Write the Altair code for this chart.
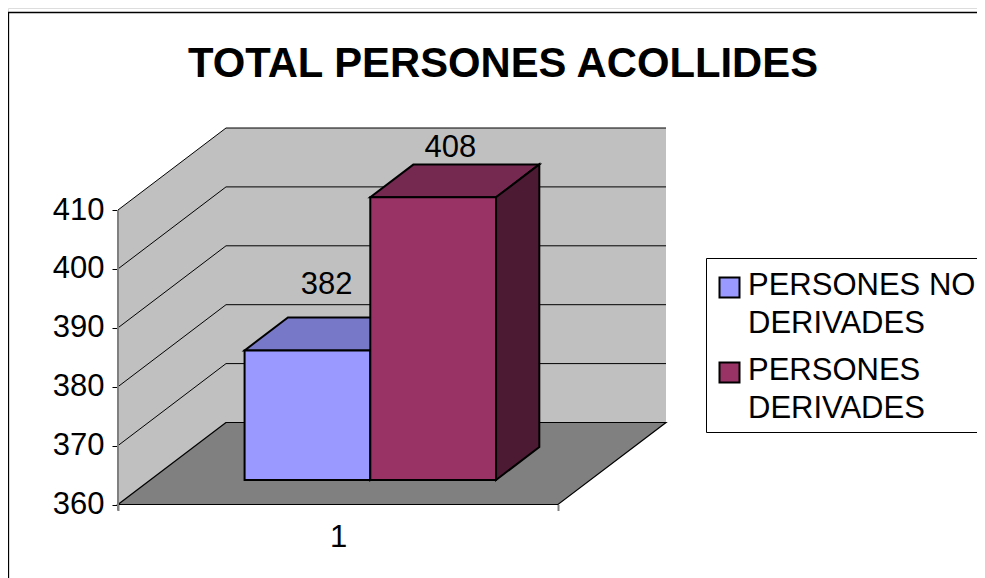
import altair as alt
import pandas as pd

TITLE = "TOTAL PERSONES ACOLLIDES"
SERIES = ["PERSONES NO\nDERIVADES", "PERSONES\nDERIVADES"]
VALUES = [382, 408]
LABEL_SHIFT = [(-2.5, -48.5), (-4.5, -32.5)]
FRONT = ["#9999FF", "#993366"]
TOP = ["#7878C8", "#752850"]
SIDE = ["#4F4F86", "#4D1A33"]
TICKS = [360, 370, 380, 390, 400, 410]
CATEGORY = ["1"]
FONT = "Liberation Sans"
FS = 31
LABEL_LIFT = 17

# reference-frame geometry of the 3-D box
W, H, M = 969, 570, 8
X0, Y0, CAT_W, DX, DY = 118.0, 504.5, 440.0, 108.0, 82.0
UNIT = 5.89
BASE = 360
D0, D1 = 0.299, 0.70
GAP = 1.5


def proj(c, d, v):
    return X0 + c * CAT_W + d * DX, Y0 - d * DY - (v - BASE) * UNIT


XS = alt.Scale(domain=[M, M + W], range=[0, W], nice=False, zero=False)
YS = alt.Scale(domain=[M + H, M], range=[H, 0], nice=False, zero=False)
VS = alt.Scale(
    domain=[BASE + (Y0 - (M + H)) / UNIT, BASE + (Y0 - M) / UNIT],
    range=[H, 0], nice=False, zero=False)


def X(f="x"):
    return alt.X(f"{f}:Q", scale=XS, axis=None)


def Y(f="y"):
    return alt.Y(f"{f}:Q", scale=YS, axis=None)


def vface(a, b, top_a, top_b, bot_a, bot_b, fill, stroke=None, sw=2):
    df = pd.DataFrame([
        {"x": a, "y": top_a, "y2": bot_a},
        {"x": b, "y": top_b, "y2": bot_b}])
    kw = dict(fill=fill, strokeWidth=sw)
    if stroke:
        kw["stroke"] = stroke
    return alt.Chart(df).mark_area(**kw).encode(
        x=X(), y=Y(), y2=alt.Y2("y2:Q"))


def hface(y_a, y_b, l_a, l_b, r_a, r_b, fill, stroke=None, sw=2):
    df = pd.DataFrame([
        {"y": y_a, "x": l_a, "x2": r_a},
        {"y": y_b, "x": l_b, "x2": r_b}])
    kw = dict(fill=fill, strokeWidth=sw, orient="horizontal")
    if stroke:
        kw["stroke"] = stroke
    return alt.Chart(df).mark_area(**kw).encode(
        y=Y(), x=X(), x2=alt.X2("x2:Q"))


layers = []
# walls
lb = proj(0, 0, BASE); lt = proj(0, 0, TICKS[-1])
bb = proj(0, 1, BASE); bt = proj(0, 1, TICKS[-1])
rb = proj(1, 1, BASE); rt = proj(1, 1, TICKS[-1])
fr = proj(1, 0, BASE)
layers.append(vface(lb[0], bb[0], lt[1], bt[1], lb[1], bb[1], "#C0C0C0"))
layers.append(vface(bb[0], rb[0], bt[1], rt[1], bb[1], rb[1], "#C0C0C0"))
layers.append(hface(lb[1], bb[1], lb[0], bb[0], fr[0], rb[0], "#808080", "#000000", 1.2))

# grid lines over left and back walls
rows = []
for t in TICKS[1:]:
    for c, d in [(0, 0), (0, 1), (1, 1)]:
        px, py = proj(c, d, t)
        rows.append({"t": t, "x": px, "y": py})
layers.append(alt.Chart(pd.DataFrame(rows)).mark_line(color="#000000", strokeWidth=1).encode(
    x=X(), y=Y(), detail="t:N"))

# gray vertical axis line
layers.append(alt.Chart(pd.DataFrame([{"x": X0, "y": lt[1], "y2": lb[1] + 6}])).mark_rule(
    color="#808080", strokeWidth=2).encode(x=X(), y=Y(), y2=alt.Y2("y2:Q")))

# bars
bw = 1 / (2 + GAP)
starts = [GAP / 2 * bw, GAP / 2 * bw + bw]
label_rows = []
for i, (s, v) in enumerate(zip(SERIES, VALUES)):
    c0, c1 = starts[i], starts[i] + bw
    fl = proj(c0, D0, v); fr_ = proj(c1, D0, v); fb = proj(c0, D0, BASE)
    bl = proj(c0, D1, v); br = proj(c1, D1, v); bbk = proj(c1, D1, BASE); frb = proj(c1, D0, BASE)
    layers.append(hface(fl[1], bl[1], fl[0], bl[0], fr_[0], br[0], TOP[i], "#000000", 2))
    layers.append(vface(fr_[0], br[0], fr_[1], br[1], frb[1], bbk[1], SIDE[i], "#000000", 2))
    df = pd.DataFrame([{"s": s, "x": fl[0], "x2": fr_[0], "y": fl[1], "y2": fb[1]}])
    layers.append(alt.Chart(df).mark_rect(stroke="#000000", strokeWidth=2).encode(
        x=X(), x2=alt.X2("x2:Q"), y=Y(), y2=alt.Y2("y2:Q"),
        color=alt.Color("s:N", scale=alt.Scale(domain=SERIES, range=FRONT), legend=alt.Legend(
            title=" ", titleFontSize=1, titlePadding=5, orient="none", legendX=698, legendY=250,
            direction="vertical",
            symbolType="square", symbolSize=400, symbolStrokeColor="#000000", symbolStrokeWidth=2,
            labelFont=FONT, labelFontSize=FS, labelColor="#000000", labelLimit=400,
            labelBaseline="top",
            labelExpr="split(datum.label, '\\n')", strokeColor="#000000", fillColor="#FFFFFF",
            padding=8, rowPadding=15, labelOffset=3, symbolOpacity=1))))
    mid = proj((c0 + c1) / 2, (D0 + D1) / 2, v)
    label_rows.append({"x": mid[0] + LABEL_SHIFT[i][0], "y": mid[1] + LABEL_SHIFT[i][1], "v": str(v)})

layers.append(alt.Chart(pd.DataFrame(label_rows)).mark_text(
    font=FONT, fontSize=FS, color="#000000", baseline="middle").encode(
    x=X(), y=Y(), text="v:N"))

# chart border
layers.append(alt.Chart(pd.DataFrame([{"x": 8.5, "y": 12.5, "y2": M + H}])).mark_rule(
    color="#000000", strokeWidth=1.3).encode(x=X(), y=Y(), y2=alt.Y2("y2:Q")))
layers.append(alt.Chart(pd.DataFrame([{"x": 8, "x2": M + W, "y": 12.5}])).mark_rule(
    color="#000000", strokeWidth=1.3).encode(x=X(), x2=alt.X2("x2:Q"), y=Y()))

# value axis
layers.append(alt.Chart(pd.DataFrame({"v": TICKS})).mark_point(opacity=0).encode(
    y=alt.Y("v:Q", scale=VS, axis=alt.Axis(
        orient="left", values=TICKS, offset=-(X0 - M), title=None, domain=False, grid=False,
        tickColor="#000000", tickSize=6, labelPadding=8, labelOffset=LABEL_LIFT,
        labelFont=FONT, labelFontSize=FS, labelColor="#000000"))))

# category axis
layers.append(alt.Chart(pd.DataFrame({"c": CATEGORY})).mark_point(opacity=0).encode(
    x=alt.X("c:N", scale=alt.Scale(domain=CATEGORY, range=[X0 - M, X0 - M + CAT_W], paddingInner=0, paddingOuter=0),
            axis=alt.Axis(orient="bottom", offset=-(M + H - Y0), title=None, domain=False, grid=False,
                          tickBand="extent", tickColor="#808080", tickSize=6, tickWidth=2,
                          labelPadding=12 + LABEL_LIFT, labelAngle=0,
                          labelFont=FONT, labelFontSize=FS, labelColor="#000000"))))

chart = alt.layer(*layers).resolve_scale(x="independent", y="independent").properties(
    width=W, height=H, padding=0, autosize=alt.AutoSizeParams(type="none"),
    title=alt.TitleParams(TITLE, font=FONT, fontSize=41.8, fontWeight="bold", color="#000000",
                          anchor="middle", dx=10.5, dy=82, frame="group"),
).configure_view(stroke=None).configure(
    background="#FFFFFF", style={"guide-label": {"lineHeight": 38, "dy": -LABEL_LIFT}})

chart.save("out.html", embed_options={"renderer": "svg", "actions": False})
